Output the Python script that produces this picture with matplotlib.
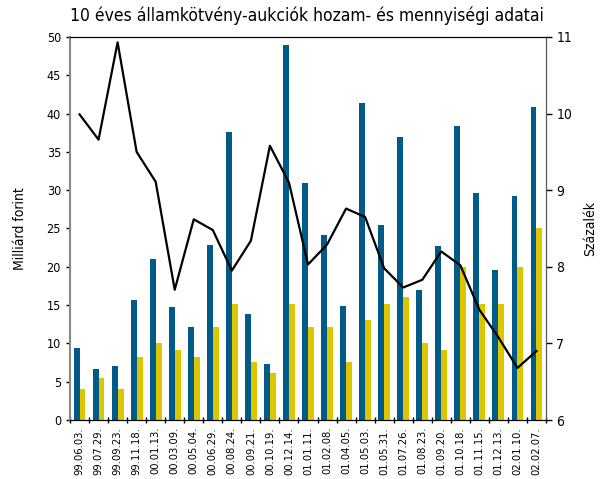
import matplotlib.pyplot as plt
import numpy as np

plt.rcParams["font.family"] = ["DejaVu Sans"]
plt.rcParams["font.stretch"] = "condensed"

dates = ["99.06.03.", "99.07.29.", "99.09.23.", "99.11.18.", "00.01.13.",
         "00.03.09.", "00.05.04.", "00.06.29.", "00.08.24.", "00.09.21.",
         "00.10.19.", "00.12.14.", "01.01.11.", "01.02.08.", "01.04.05.",
         "01.05.03.", "01.05.31.", "01.07.26.", "01.08.23.", "01.09.20.",
         "01.10.18.", "01.11.15.", "01.12.13.", "02.01.10.", "02.02.07."]
offered = [9.4, 6.7, 7.0, 15.7, 21.0, 14.8, 12.1, 22.9, 37.6, 13.9, 7.3, 49.0,
           31.0, 24.2, 14.9, 41.4, 25.4, 37.0, 17.0, 22.7, 38.4, 29.6, 19.6,
           29.3, 40.9]
accepted = [4.0, 5.5, 4.0, 8.2, 10.0, 9.2, 8.2, 12.1, 15.2, 7.6, 6.1, 15.2,
            12.1, 12.1, 7.6, 13.0, 15.2, 16.1, 10.0, 9.1, 20.0, 15.2, 15.2,
            20.0, 25.1]
yields = [9.99, 9.66, 10.93, 9.5, 9.11, 7.7, 8.62, 8.48, 7.95, 8.34, 9.58, 9.1,
          8.03, 8.29, 8.76, 8.65, 7.98, 7.73, 7.83, 8.2, 8.02, 7.44, 7.08,
          6.68, 6.9]

BLUE = "#005b88"
YELLOW = "#dcc600"

fig = plt.figure(figsize=(6.06, 4.79), dpi=100)
ax = fig.add_axes([70 / 606, 1 - 420 / 479, 476 / 606, 383 / 479])
x = np.arange(len(dates))
w = 0.31
ax.bar(x - w / 2, offered, width=w, color=BLUE, zorder=2)
ax.bar(x + w / 2, accepted, width=w, color=YELLOW, zorder=2)
ax.set_xlim(-0.5, len(dates) - 0.5)
ax.set_ylim(0, 50)
ax.set_yticks(range(0, 51, 5))
ax.set_xticks(x)
ax.set_xticklabels(dates, rotation=90, fontsize=8)
ax.set_xticks(np.arange(-0.5, len(dates), 1), minor=True)
ax.tick_params(axis="x", which="major", length=0, pad=5)
ax.tick_params(axis="x", which="minor", length=5, direction="inout", width=1)
ax.tick_params(axis="y", length=3, labelsize=9, width=1)
ax.set_ylabel("Milliárd forint", fontsize=10, labelpad=14)
ax.spines["left"].set_color("#888888")
ax.spines["left"].set_linewidth(1.5)
ax.spines["top"].set_color("black")
ax.spines["right"].set_color("#555555")

ax2 = ax.twinx()
ax2.plot(x, yields, color="black", linewidth=1.6, zorder=3)
ax2.set_ylim(6, 11)
ax2.set_yticks(range(6, 12))
ax2.tick_params(axis="y", length=4, labelsize=10, width=1)
ax2.set_ylabel("Százalék", fontsize=10, labelpad=8)
ax2.spines["right"].set_color("#555555")
ax2.spines["left"].set_visible(False)

fig.text(70 / 606, 1 - 16 / 479, "10 éves államkötvény-aukciók hozam- és mennyiségi adatai",
         fontsize=12.5, va="center", ha="left")

fig.savefig("out.png", dpi=100)
